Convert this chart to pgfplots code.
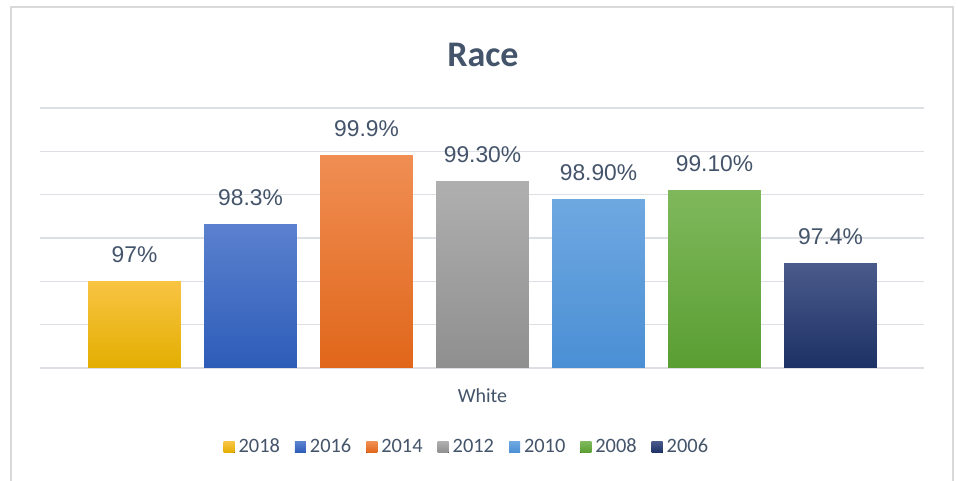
\documentclass[border=0pt]{standalone}
\usepackage{pgfplots}
\pgfplotsset{compat=1.18}
\usepackage{fontspec}
\setmainfont{Carlito}
\newfontfamily\lab{Liberation Sans}

\definecolor{txt}{HTML}{44546A}
\definecolor{gridc}{HTML}{DCDFE4}
\definecolor{framec}{HTML}{D9D9D9}
% top / bottom / legend colours
\definecolor{yT}{HTML}{F8C443}\definecolor{yB}{HTML}{E3AE00}\definecolor{yL}{HTML}{F8C300}
\definecolor{bT}{HTML}{5B81CF}\definecolor{bB}{HTML}{2D5CB8}\definecolor{bL}{HTML}{3D6BC6}
\definecolor{oT}{HTML}{F08E53}\definecolor{oB}{HTML}{E0661A}\definecolor{oL}{HTML}{ED7628}
\definecolor{gT}{HTML}{AFAFAF}\definecolor{gB}{HTML}{8F8F8F}\definecolor{gL}{HTML}{A0A0A0}
\definecolor{lT}{HTML}{6FA8E1}\definecolor{lB}{HTML}{4A8FD4}\definecolor{lL}{HTML}{5B9BD9}
\definecolor{vT}{HTML}{7FB85C}\definecolor{vB}{HTML}{5A9E32}\definecolor{vL}{HTML}{6AAB42}
\definecolor{nT}{HTML}{4A5A8A}\definecolor{nB}{HTML}{1D3166}\definecolor{nL}{HTML}{25386F}

\begin{document}
\begin{tikzpicture}
\useasboundingbox (0,0) rectangle (479pt,240.5pt);
\fill[white] (0,0) rectangle (479pt,240.5pt);
\draw[framec, line width=0.7pt] (5.5pt,0) -- (5.5pt,237pt) -- (476.5pt,237pt) -- (476.5pt,0);
\node[anchor=base, text=txt, font=\fontsize{18}{20}\selectfont\bfseries] at (241.5pt,207pt) {Race};

\begin{axis}[
  at={(20pt,56.5pt)}, anchor=south west,
  scale only axis,
  width=442pt, height=130pt,
  ybar, bar width=0.8, bar shift=0pt,
  xmin=-0.815, xmax=6.806,
  ymin=95, ymax=101,
  ytick={95,96,...,101}, yticklabels={},
  xtick={3}, xticklabels={White},
  major tick length=0pt,
  axis line style={draw=none},
  ymajorgrids, grid style={gridc, line width=0.75pt},
  xticklabel style={anchor=base, yshift=-17.5pt, text=txt, font=\fontsize{10}{12}\selectfont},
  clip=false,
  every node near coord/.append style={anchor=base, yshift=9.5pt, text=txt, font=\lab\fontsize{11.4}{13}\selectfont},
  legend columns=7,
  legend style={at={(rel axis cs:0.484,-0.304)}, anchor=center, draw=none, fill=none,
    font=\fontsize{10.2}{12}\selectfont, text=txt,
    /tikz/every even column/.append style={column sep=5.5pt}},
  legend image code/.code={\fill[#1] (0pt,-2.75pt) rectangle (5.5pt,2.75pt);},
]
\addplot[draw=none, top color=yT, bottom color=yB, nodes near coords={97\%}] coordinates {(0,97.0)};
\addplot[draw=none, top color=bT, bottom color=bB, nodes near coords={98.3\%}] coordinates {(1,98.3)};
\addplot[draw=none, top color=oT, bottom color=oB, nodes near coords={99.9\%}] coordinates {(2,99.9)};
\addplot[draw=none, top color=gT, bottom color=gB, nodes near coords={99.30\%}] coordinates {(3,99.3)};
\addplot[draw=none, top color=lT, bottom color=lB, nodes near coords={98.90\%}] coordinates {(4,98.9)};
\addplot[draw=none, top color=vT, bottom color=vB, nodes near coords={99.10\%}] coordinates {(5,99.1)};
\addplot[draw=none, top color=nT, bottom color=nB, nodes near coords={97.4\%}] coordinates {(6,97.4)};
\legend{2018,2016,2014,2012,2010,2008,2006}
\end{axis}
\end{tikzpicture}
\end{document}
